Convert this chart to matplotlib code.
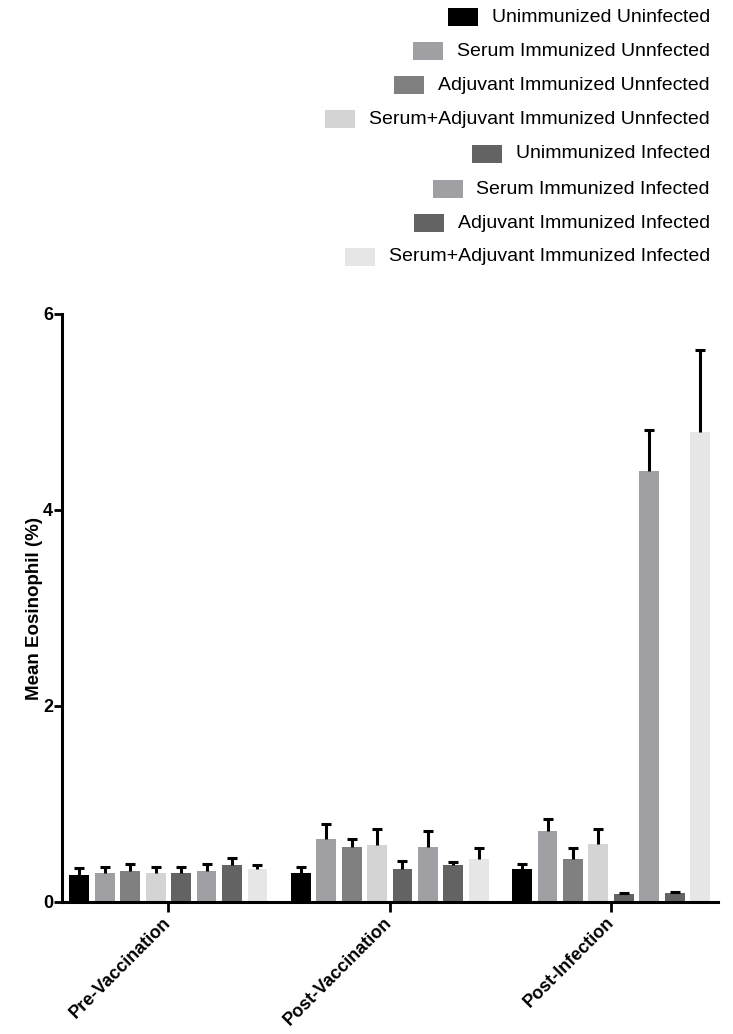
import matplotlib
matplotlib.use("Agg")
import matplotlib.pyplot as plt
from matplotlib.patches import Rectangle
import numpy as np

plt.rcParams["font.family"] = ["Liberation Sans", "DejaVu Sans"]

groups = ["Pre-Vaccination", "Post-Vaccination", "Post-Infection"]

series = [
    "Unimmunized Uninfected",
    "Serum Immunized Unnfected",
    "Adjuvant Immunized Unnfected",
    "Serum+Adjuvant Immunized Unnfected",
    "Unimmunized Infected",
    "Serum Immunized Infected",
    "Adjuvant Immunized Infected",
    "Serum+Adjuvant Immunized Infected",
]

colors = ["#000000", "#a0a0a4", "#808080", "#d4d4d4",
          "#636363", "#a0a0a4", "#636363", "#e6e6e6"]

# mean eosinophil (%) per series, one value per group
means = [
    [0.28, 0.30, 0.34],
    [0.30, 0.64, 0.72],
    [0.32, 0.56, 0.44],
    [0.30, 0.58, 0.59],
    [0.30, 0.34, 0.08],
    [0.32, 0.56, 4.40],
    [0.38, 0.38, 0.09],
    [0.34, 0.44, 4.80],
]

# upper error (SEM)
errors = [
    [0.07, 0.06, 0.05],
    [0.06, 0.16, 0.13],
    [0.07, 0.08, 0.11],
    [0.06, 0.17, 0.15],
    [0.06, 0.08, 0.015],
    [0.07, 0.16, 0.42],
    [0.07, 0.03, 0.01],
    [0.04, 0.11, 0.83],
]

fig = plt.figure(figsize=(7.33, 10.34), dpi=100)
ax = fig.add_axes([62 / 733, 1 - 902 / 1034, 656 / 733, 588 / 1034])

group_x = np.arange(len(groups)) * 8.7
width = 0.78
n = len(series)

for i in range(n):
    x = group_x + (i - (n - 1) / 2)
    ax.bar(x, means[i], width=width, color=colors[i], edgecolor="none", zorder=2)
    eb = ax.errorbar(x, means[i], yerr=[np.zeros(len(groups)), errors[i]],
                     fmt="none", ecolor="black", elinewidth=2.2, capsize=3.8,
                     capthick=2.2, zorder=3)
    # only the upper cap, as in the original
    eb[1][0].set_visible(False)

ax.set_xlim(-4.18, 21.6)
ax.set_ylim(0, 6)
ax.set_yticks([0, 2, 4, 6])
ax.set_xticks(group_x)
ax.set_xticklabels(groups, rotation=45, ha="right", va="center",
                   rotation_mode="anchor", fontsize=13, fontweight="bold")
for lab in ax.get_yticklabels():
    lab.set_fontweight("bold")
    lab.set_fontsize(13)

for side in ["top", "right"]:
    ax.spines[side].set_visible(False)
for side in ["left", "bottom"]:
    ax.spines[side].set_linewidth(2.2)
ax.tick_params(axis="y", length=5.5, width=2.0, pad=1)
ax.tick_params(axis="x", length=7, width=2.0, pad=6)
ax.set_ylabel("Mean Eosinophil (%)", fontsize=13.5, fontweight="bold", labelpad=0)

# legend: right-aligned text with swatch on the left
row_y = [17, 51, 85, 119, 154, 189, 223, 257]
texts = []
for name, y in zip(series, row_y):
    t = fig.text(710 / 733, 1 - y / 1034, name, ha="right", va="center", fontsize=14)
    texts.append(t)

fig.canvas.draw()
renderer = fig.canvas.get_renderer()
W, H = fig.bbox.width, fig.bbox.height
for t, c in zip(texts, colors):
    bb = t.get_window_extent(renderer)
    yc = (bb.y0 + bb.y1) / 2
    x0 = bb.x0 - 14 - 30
    fig.add_artist(Rectangle((x0 / W, (yc - 9) / H), 30 / W, 18 / H,
                             transform=fig.transFigure, facecolor=c,
                             edgecolor="none"))

fig.savefig("out.png", dpi=100)
